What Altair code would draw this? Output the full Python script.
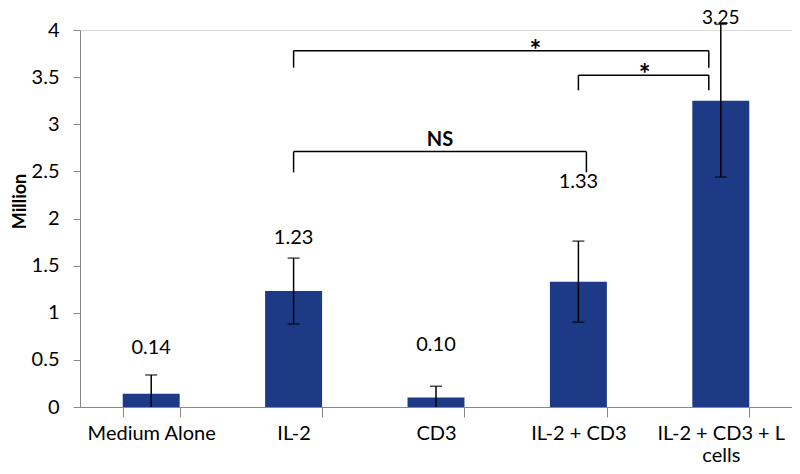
import altair as alt
import pandas as pd

categories = ["Medium Alone", "IL-2", "CD3", "IL-2 + CD3", "IL-2 + CD3 + L cells"]
means = [0.14, 1.23, 0.10, 1.33, 3.25]
errors = [0.20, 0.35, 0.12, 0.43, 0.81]
label_text = ["0.14", "1.23", "0.10", "1.33", "3.25"]
label_y = [0.63, 1.79, 0.66, 2.39, 4.13]
label_size = [20, 20, 20, 20, 19]
y_ticks = [0, 0.5, 1, 1.5, 2, 2.5, 3, 3.5, 4]

FONT = "Lato"
BAR = "#1c3a85"

df = pd.DataFrame({
    "cat": categories,
    "mean": means,
    "err": errors,
    "label": label_text,
    "label_y": label_y,
    "label_size": label_size,
})
df["hi"] = df["mean"] + df["err"]
df["lo"] = (df["mean"] - df["err"]).clip(lower=0)
df_locap = df[df["mean"] - df["err"] > 0]

xscale = alt.Scale(domain=categories, paddingInner=0.6, paddingOuter=0.3)
yscale = alt.Scale(domain=[0, 4], nice=False)


def X(field):
    return alt.X(field, type="nominal", scale=xscale, title=None)


xenc = alt.X(
    "cat:N",
    scale=xscale,
    title=None,
    axis=alt.Axis(
        labelAngle=0,
        labelFont=FONT,
        labelFontSize=20,
        labelColor="black",
        labelPadding=6,
        labelLineHeight=22,
        labelBaseline="top",
        labelLimit=300,
        domainColor="#888888",
        tickColor="#888888",
        tickSize=10,
        tickBand="extent",
        labelExpr="datum.value == 'IL-2 + CD3 + L cells' ? ['IL-2 + CD3 + L', 'cells'] : datum.value",
    ),
)

bars = alt.Chart(df).mark_bar(color=BAR).encode(
    x=xenc,
    y=alt.Y(
        "mean:Q",
        scale=yscale,
        title="Million",
        axis=alt.Axis(
            values=y_ticks,
            format="~g",
            grid=False,
            labelFont=FONT,
            labelFontSize=20,
            labelColor="black",
            labelPadding=14,
            tickSize=7,
            tickColor="#888888",
            domainColor="#888888",
            titleFont=FONT,
            titleFontSize=18,
            titleFontWeight="bold",
            titleColor="black",
            titleX=-51,
            titleY=171,
        ),
    ),
)

err_rule = alt.Chart(df).mark_rule(color="black", strokeWidth=1.5, clip=False).encode(
    x=X("cat"),
    y=alt.Y("lo:Q", scale=yscale),
    y2="hi:Q",
)
cap_hi = alt.Chart(df).mark_tick(color="black", size=12, thickness=1.5, clip=False).encode(
    x=X("cat"),
    y=alt.Y("hi:Q", scale=yscale),
)
cap_lo = alt.Chart(df_locap).mark_tick(color="black", size=12, thickness=1.5).encode(
    x=X("cat"),
    y=alt.Y("lo:Q", scale=yscale),
)
labels = alt.Chart(df).mark_text(font=FONT, color="black", clip=False).encode(
    x=X("cat"),
    y=alt.Y("label_y:Q", scale=yscale),
    text="label:N",
    size=alt.Size("label_size:Q", scale=None, legend=None),
)

# significance brackets: (left cat, right cat, top y, leg bottom y, left offset px, right offset px,
#                         text, text cat, text dx, text y, font size)
brackets = [
    ("IL-2", "IL-2 + CD3 + L cells", 3.78, 3.60, 0, -12, "*", "IL-2 + CD3", -43, 3.77, 28),
    ("IL-2 + CD3", "IL-2 + CD3 + L cells", 3.52, 3.36, 0, -12, "*", "IL-2 + CD3 + L cells", -76, 3.51, 28),
    ("IL-2", "IL-2 + CD3", 2.71, 2.49, 0, 8, "NS", "CD3", 4, 2.83, 20),
]

layers = [bars, err_rule, cap_hi, cap_lo, labels]
for lc, rc, ytop, ybot, lo, ro, txt, tc, tdx, ty, fs in brackets:
    h = pd.DataFrame({"a": [lc], "b": [rc], "y": [ytop]})
    layers.append(
        alt.Chart(h).mark_rule(color="black", strokeWidth=1.5, xOffset=lo, x2Offset=ro).encode(
            x=X("a"), x2="b:N", y=alt.Y("y:Q", scale=yscale)
        )
    )
    for c, off in ((lc, lo), (rc, ro)):
        v = pd.DataFrame({"c": [c], "y1": [ytop], "y2": [ybot]})
        layers.append(
            alt.Chart(v).mark_rule(color="black", strokeWidth=1.5, xOffset=off).encode(
                x=X("c"), y=alt.Y("y1:Q", scale=yscale), y2="y2:Q"
            )
        )
    t = pd.DataFrame({"c": [tc], "y": [ty], "t": [txt]})
    layers.append(
        alt.Chart(t).mark_text(font=FONT, fontSize=fs, fontWeight="bold", color="black", dx=tdx).encode(
            x=X("c"), y=alt.Y("y:Q", scale=yscale), text="t:N"
        )
    )

chart = alt.layer(*layers).properties(
    width=712,
    height=377,
    autosize=alt.AutoSizeParams(type="none"),
    padding={"left": 72, "top": 22, "right": 0, "bottom": 59},
).configure_view(stroke=None).configure(background="white")

chart.save("out.html", embed_options={"renderer": "svg", "actions": False})
